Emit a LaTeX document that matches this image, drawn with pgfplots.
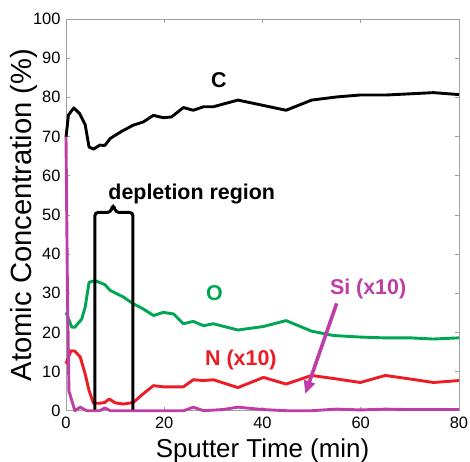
\documentclass[border=0pt]{standalone}
\usepackage{fontspec}
\setmainfont{Liberation Sans}
\usepackage{pgfplots}
\pgfplotsset{compat=1.18}
\usetikzlibrary{arrows.meta}
\definecolor{cC}{RGB}{0,0,0}
\definecolor{cO}{RGB}{0,166,81}
\definecolor{cN}{RGB}{237,28,36}
\definecolor{cSi}{RGB}{190,62,165}
\definecolor{axgray}{RGB}{160,160,160}
\begin{document}
\begin{tikzpicture}
\begin{axis}[
  name=ax,
  scale only axis,
  width=393bp, height=391.7bp,
  xmin=0, xmax=80, ymin=0, ymax=100,
  xtick={0,20,40,60,80},
  ytick={0,10,...,100},
  tick align=inside,
  major tick length=4bp,
  axis line style={axgray, line width=0.6bp},
  tick style={axgray, line width=0.6bp},
  /pgf/number format/assume math mode=true,
  ticklabel style={font=\fontsize{16.5}{18}\selectfont, black},
  xticklabel style={yshift=-3bp},
  yticklabel style={xshift=-2bp},
  xlabel={Sputter Time (min)},
  ylabel={Atomic Concentration (\%)},
  xlabel style={font=\fontsize{26}{28}\selectfont, yshift=-3bp},
  ylabel style={font=\fontsize{29.3}{31}\selectfont, yshift=-11bp},
  clip=false,
  every axis plot/.append style={line width=2.9bp, line join=round, mark=none},
]
% O
\addplot[cO] coordinates {
(0,25.1) (1.2,21.3) (1.8,21.3) (3.2,23.4) (3.9,26.4) (4.7,32.8) (5.9,33.2) (7.9,32.2)
(9,30.7) (11.7,29) (13.7,27.3) (15.7,26) (17.8,24.3) (19.8,25.1) (21.9,24.7) (23.9,22.2)
(25.9,22.8) (28,21.7) (30,22.2) (35,20.6) (40.2,21.5) (44.8,23) (50,20.3) (54.4,19.2)
(59.9,18.8) (64.6,18.6) (70,18.6) (74.8,18.3) (80,18.6)};
% N (x10)
\addplot[cN] coordinates {
(0,12) (1,15.3) (1.8,15.2) (2.9,13.7) (3.9,9.4) (4.7,5.1) (5.6,1.9) (6.9,1.9) (7.9,2.1)
(8.8,3) (10,2) (11.7,1.7) (13.7,2.1) (15.7,4.3) (17.8,6.4) (19.8,6.1) (23.9,6.1) (25.9,7.9)
(28,7.7) (30,7.9) (35,5.9) (40.2,8.5) (44.8,6.8) (50,9) (55.1,8.1) (59.9,7.2) (65,9)
(70,8.1) (74.8,7.2) (80,7.7)};
% C
\addplot[cC] coordinates {
(0,69.8) (0.5,75.5) (1.6,77.3) (2.8,75.8) (3.9,73) (4.7,67.3) (5.6,66.8) (6.9,67.8) (7.9,67.7)
(9,69.5) (11.3,71.3) (13.7,72.9) (15.7,73.7) (17.8,75.4) (19.8,74.8) (21.5,75) (23.9,77.4)
(25.9,76.7) (28,77.6) (30,77.6) (35,79.3) (44.8,76.7) (50,79.3) (55.1,80.1) (59.9,80.6)
(65.3,80.6) (74.8,81.2) (80,80.7)};
% Si (x10)
\addplot[cSi] coordinates {
(0,70) (0.3,30) (0.6,5) (1.8,0) (2.9,0.9) (4.2,0) (6.9,0) (7.9,0.7) (9,0) (24,0)
(25.9,0.9) (28,0) (32,0.3) (35,0.9) (40,0.3) (44.8,0) (50,0) (55,0.4) (60,0.2) (65,0.4)
(70,0.3) (80,0.3)};
% depletion region bracket
\draw[black, line width=3bp, rounded corners=3bp]
  (axis cs:5.9,0.3) -- (axis cs:5.9,50.6) -- (axis cs:9.0,50.6)
  -- (axis cs:9.6,52.6) -- (axis cs:10.2,50.6) -- (axis cs:13.6,50.6) -- (axis cs:13.6,0.3);
% annotations
\node[font=\fontsize{21.5}{23}\selectfont\bfseries, black] at (axis cs:31.1,84.4) {C};
\node[font=\fontsize{21.5}{23}\selectfont\bfseries, black] at (axis cs:25.6,55.2) {depletion region};
\node[font=\fontsize{21.5}{23}\selectfont\bfseries, cO] at (axis cs:30.2,29.9) {O};
\node[font=\fontsize{21.5}{23}\selectfont\bfseries, cN] at (axis cs:35.6,12.9) {N (x10)};
\node[font=\fontsize{21.5}{23}\selectfont\bfseries, cSi] at (axis cs:61.5,31.1) {Si (x10)};
\draw[cSi, line width=3.6bp, -{Triangle[length=13bp,width=11bp]}]
  (axis cs:55.1,27.4) -- (axis cs:48.7,4.3);
\end{axis}
\pgfresetboundingbox
\path ([shift={(-66bp,-51.3bp)}]ax.south west) rectangle ([shift={(11bp,19bp)}]ax.north east);
\end{tikzpicture}
\end{document}
